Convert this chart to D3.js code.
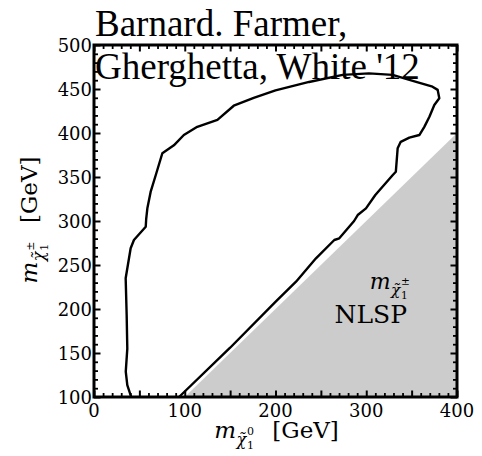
<!DOCTYPE html>
<html>
<head>
<meta charset="utf-8">
<script src="https://cdn.jsdelivr.net/npm/d3@7"></script>
<style>
  html, body { margin: 0; padding: 0; background: #ffffff; }
  svg { display: block; }
</style>
</head>
<body>
<svg id="chart" width="482" height="456"></svg>
<script>
// Axis ranges and tick labels (GeV)
const xDomain = [0, 400];
const yDomain = [100, 500];
const xTickLabels = [0, 100, 200, 300, 400];
const yTickLabels = [100, 150, 200, 250, 300, 350, 400, 450, 500];

// Exclusion contour in (m_chi0, m_chi±), traced from the lower-left end round to the diagonal
const contourNeutralino = [41, 36.7, 35, 36.7, 36, 34.9, 40.4, 44, 57, 57.5, 58.8, 62.4, 68, 75.3, 88, 99, 113.8, 136, 154, 176, 200, 237, 274, 303, 329, 355, 373, 378.7, 380.5, 375, 369.6, 364, 358.5, 347.5, 338, 334.6, 332.6, 329, 310, 299.7, 290.6, 286.6, 270.3, 264.8, 244.6, 222.6, 200.2, 150, 93.7];
const contourChargino   = [100, 113.6, 128.8, 155, 193, 235, 269, 278.4, 293.5, 302, 314.4, 333, 352, 377, 386, 397.7, 407, 415, 431, 440, 448.5, 458, 466, 467.8, 466, 458, 452.6, 449, 439.4, 431.8, 418.5, 407, 397.7, 394.7, 390, 382.6, 356, 352, 329.5, 314.4, 306.8, 300, 280.3, 278.4, 257.6, 231, 208.5, 156, 100];

// Region where the chargino is lighter than the neutralino
const nlspNeutralino = [100, 400, 400];
const nlspChargino   = [100, 400, 100];

const titleLines = ["Barnard. Farmer,", "Gherghetta, White '12"];

const svg = d3.select("#chart");
const x = d3.scaleLinear().domain(xDomain).range([94, 457]);
const y = d3.scaleLinear().domain(yDomain).range([397, 45]);

// Shaded NLSP region
svg.append("path")
  .datum(d3.zip(nlspNeutralino, nlspChargino))
  .attr("d", d3.line().x(d => x(d[0])).y(d => y(d[1])))
  .attr("fill", "#cccccc")
  .attr("stroke", "none");

// Contour line
svg.append("path")
  .datum(d3.zip(contourNeutralino, contourChargino))
  .attr("d", d3.line().x(d => x(d[0])).y(d => y(d[1])))
  .attr("fill", "none")
  .attr("stroke", "#000")
  .attr("stroke-width", 2.4)
  .attr("stroke-linejoin", "round");

// Ticks on all four sides, pointing inward
const xMajor = d3.range(0, 401, 50);
const xMinor = d3.range(0, 401, 10).filter(v => v % 50 !== 0);
const yMajor = d3.range(100, 501, 50);
const yMinor = d3.range(100, 501, 10).filter(v => v % 50 !== 0);

function tickLayer(axis, values, size, transform, width) {
  const g = svg.append("g")
    .attr("transform", transform)
    .call(axis.tickValues(values).tickSize(-size).tickFormat(""));
  g.select(".domain").remove();
  g.selectAll("line").attr("stroke", "#000").attr("stroke-width", width);
  g.selectAll("text").remove();
}
const pl = x.range()[0], pr = x.range()[1], pt = y.range()[1], pb = y.range()[0];
[[xMajor, 6.5, 2], [xMinor, 4, 1.8]].forEach(([v, s, w]) => {
  tickLayer(d3.axisBottom(x), v, s, `translate(0,${pb})`, w);
  tickLayer(d3.axisTop(x), v, s, `translate(0,${pt})`, w);
});
[[yMajor, 6.5, 2], [yMinor, 4, 1.8]].forEach(([v, s, w]) => {
  tickLayer(d3.axisLeft(y), v, s, `translate(${pl},0)`, w);
  tickLayer(d3.axisRight(y), v, s, `translate(${pr},0)`, w);
});

// Frame
svg.append("rect")
  .attr("x", pl).attr("y", pt)
  .attr("width", pr - pl).attr("height", pb - pt)
  .attr("fill", "none").attr("stroke", "#000").attr("stroke-width", 3);

// Tick labels
const serif = "DejaVu Serif";
svg.append("g").selectAll("text").data(xTickLabels).join("text")
  .attr("x", d => x(d)).attr("y", pb + 20)
  .attr("text-anchor", "middle")
  .attr("font-family", serif).attr("font-size", 18).attr("fill", "#000")
  .text(d => d);
svg.append("g").selectAll("text").data(yTickLabels).join("text")
  .attr("x", pl - 2).attr("y", d => y(d) + 6.5)
  .attr("text-anchor", "end")
  .attr("font-family", serif).attr("font-size", 18).attr("fill", "#000")
  .text(d => d);

// m_{chi~_1}^{sup} followed by optional trailing text
function massLabel(parent, sup, trailing, size, trailSize) {
  const t = parent.append("text")
    .attr("font-family", serif).attr("font-size", size).attr("fill", "#000")
    .attr("text-anchor", "middle");
  t.append("tspan").attr("font-style", "italic").text("m");
  t.append("tspan").attr("font-style", "italic")
    .attr("font-size", size * 0.7).attr("dy", size * 0.3).attr("dx", size * 0.02)
    .text("\u03c7\u0303");
  const supSpan = t.append("tspan")
    .attr("font-size", size * 0.48).attr("dy", -size * 0.45).attr("dx", size * 0.03)
    .text(sup);
  const supW = supSpan.node().getComputedTextLength();
  const oneSpan = t.append("tspan")
    .attr("font-size", size * 0.48).attr("dy", size * 0.62)
    .text("1");
  const oneW = oneSpan.node().getComputedTextLength();
  oneSpan.attr("dx", -supW);
  if (trailing) {
    t.append("tspan")
      .attr("font-size", trailSize).attr("dy", -size * 0.47)
      .attr("dx", Math.max(0, supW - oneW) + size * 0.8)
      .text(trailing);
  }
  return t;
}

// Axis titles
massLabel(svg, "0", "[GeV]", 23, 23)
  .attr("x", (pl + pr) / 2 + 1).attr("y", pb + 41);
massLabel(svg.append("g").attr("transform", `translate(37,${(pt + pb) / 2 - 1}) rotate(-90)`), "\u00b1", "[GeV]", 23, 23)
  .attr("x", 0).attr("y", 0);

// NLSP annotation
massLabel(svg, "\u00b1", null, 22)
  .attr("x", x(326)).attr("y", y(223));
svg.append("text")
  .attr("x", x(305)).attr("y", y(184))
  .attr("text-anchor", "middle")
  .attr("font-family", serif).attr("font-size", 25).attr("fill", "#000")
  .text("NLSP");

// Two-line title drawn over the top of the plot
svg.append("g").selectAll("text").data(titleLines).join("text")
  .attr("x", 95).attr("y", (d, i) => 36 + i * 43)
  .attr("font-family", "Liberation Serif").attr("font-size", 37).attr("fill", "#000")
  .text(d => d);
</script>
</body>
</html>
